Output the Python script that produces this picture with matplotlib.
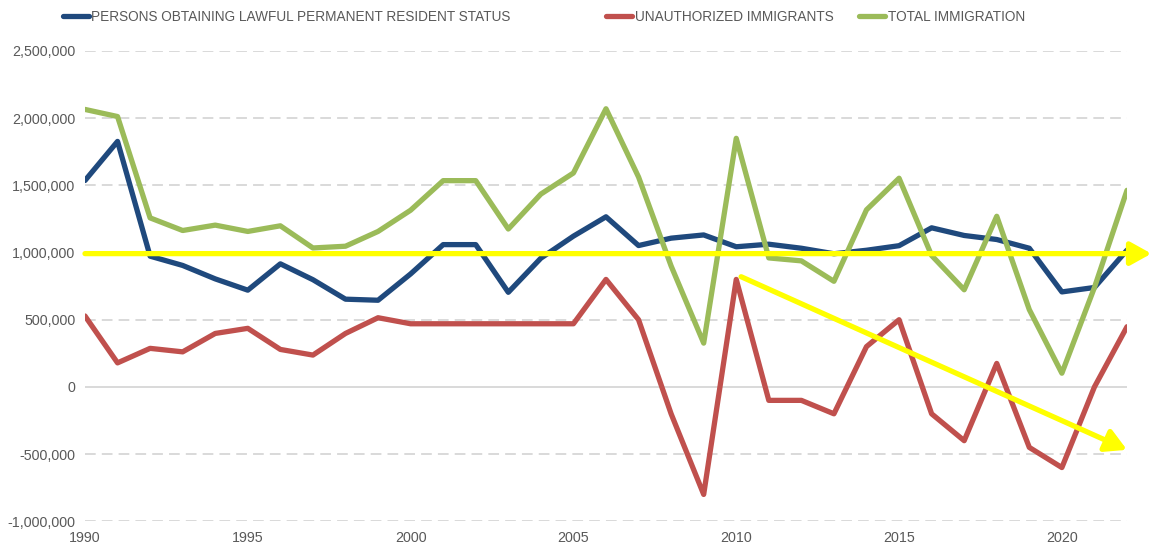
"""US immigration components, 1990-2022, with trend arrows."""

import matplotlib

matplotlib.use("Agg")
import matplotlib.pyplot as plt
from matplotlib.lines import Line2D
from matplotlib.ticker import FuncFormatter, MultipleLocator

years = list(range(1990, 2023))

lawful_permanent = [
    1536000, 1827000, 973000, 904000, 804000, 720000, 916000, 798000, 653000, 645000,
    841000, 1059000, 1059000, 704000, 958000, 1122000, 1266000, 1052000, 1107000, 1131000,
    1043000, 1062000, 1032000, 991000, 1017000, 1051000, 1184000, 1127000, 1097000, 1032000,
    707000, 740000, 1018000,
]
unauthorized = [
    528000, 179000, 287000, 261000, 398000, 436000, 279000, 237000, 398000, 515000,
    470000, 470000, 470000, 470000, 470000, 470000, 800000, 500000, -200000, -800000,
    800000, -100000, -100000, -200000, 300000, 500000, -200000, -400000, 175000, -450000,
    -600000, 0, 448000,
]
total_immigration = [
    2065000, 2012000, 1258000, 1164000, 1204000, 1157000, 1199000, 1034000, 1047000, 1157000,
    1315000, 1535000, 1535000, 1175000, 1435000, 1592000, 2070000, 1562000, 900000, 326000,
    1850000, 960000, 938000, 786000, 1318000, 1553000, 978000, 723000, 1270000, 575000,
    102000, 740000, 1463000,
]

series_labels = [
    "PERSONS OBTAINING LAWFUL PERMANENT RESIDENT STATUS",
    "UNAUTHORIZED IMMIGRANTS",
    "TOTAL IMMIGRATION",
]
series_colors = ["#1F497D", "#C0504D", "#9BBB59"]

# trend arrows (start -> end, data units)
flat_trend = [(1990, 992000), (2022.75, 992000)]
falling_trend = [(2010.15, 820000), (2022.0, -468000)]

TEXT = "#595959"
GRID = "#D0D0D0"

plt.rcParams["font.family"] = ["Liberation Sans", "DejaVu Sans"]

fig = plt.figure(figsize=(11.5, 5.48), dpi=100)
ax = fig.add_axes([0.0739, 0.0487, 0.9061, 0.8583])

for values, color in zip([lawful_permanent, unauthorized, total_immigration], series_colors):
    ax.plot(years, values, color=color, lw=3.8, solid_joinstyle="round",
            solid_capstyle="round", zorder=3)

for (x0, y0), (x1, y1) in [flat_trend, falling_trend]:
    ax.annotate("", xy=(x1, y1), xytext=(x0, y0), annotation_clip=False,
                arrowprops=dict(arrowstyle="-|>,head_length=0.9,head_width=0.5",
                                color="#FFFF00", lw=3.8, mutation_scale=14,
                                shrinkA=0, shrinkB=0),
                zorder=4)

ax.set_xlim(1990, 2022)
ax.set_ylim(-1000000, 2500000)
ax.xaxis.set_major_locator(MultipleLocator(5))
ax.yaxis.set_major_locator(MultipleLocator(500000))
ax.yaxis.set_major_formatter(FuncFormatter(lambda v, _: f"{v:,.0f}"))

for v in range(-1000000, 2500001, 500000):
    ax.axhline(v, color=GRID, lw=1.1, ls="-" if v == 0 else (0, (7, 4)), zorder=1)

for side in ax.spines.values():
    side.set_visible(False)
ax.tick_params(axis="both", length=0, labelsize=10.3, labelcolor=TEXT)
ax.tick_params(axis="y", pad=7)
ax.tick_params(axis="x", pad=7)

# legend entries laid out along the top, spaced as in the source
legend_x = [0.0545, 0.527, 0.747]
for label, color, x in zip(series_labels, series_colors, legend_x):
    handle = Line2D([], [], color=color, lw=3.8, solid_capstyle="round")
    leg = fig.legend([handle], [label], loc="center left", bbox_to_anchor=(x, 0.969),
                     frameon=False, fontsize=9.8, handlelength=1.9, handletextpad=0.2,
                     borderpad=0, borderaxespad=0)
    for t in leg.get_texts():
        t.set_color(TEXT)

fig.savefig("out.png", dpi=100)
plt.close(fig)
